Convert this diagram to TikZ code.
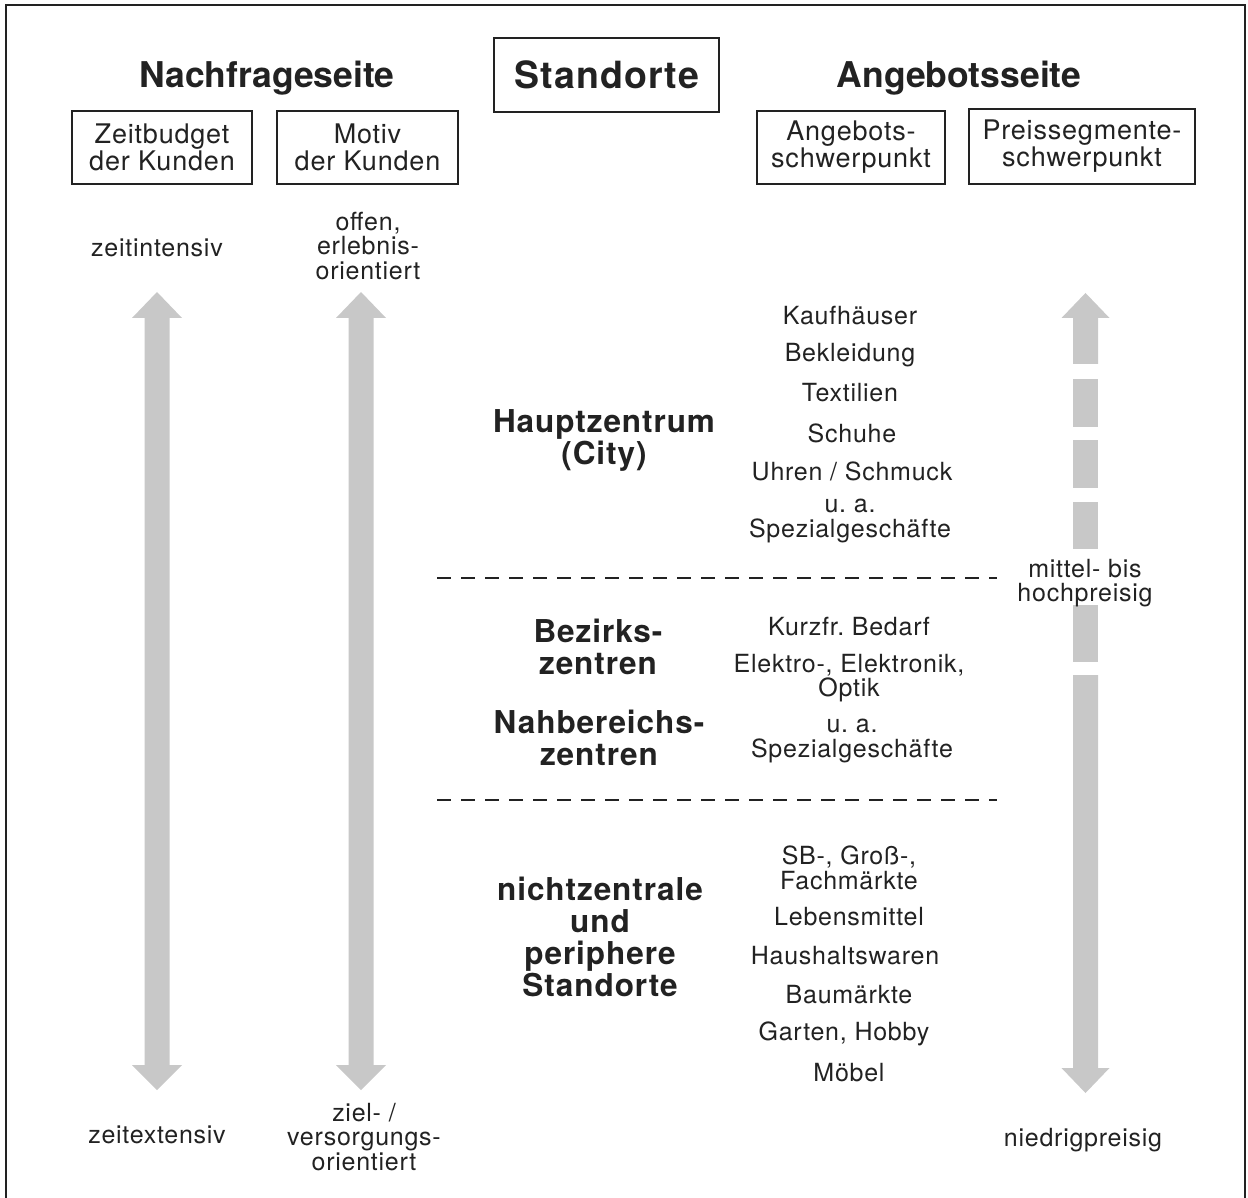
\documentclass[tikz,border=0pt]{standalone}
\usepackage{fontspec}
\setmainfont{TeX Gyre Heros}
\newfontfamily\lsp{TeX Gyre Heros}[LetterSpace=3]
\definecolor{ink}{HTML}{222222}
\definecolor{arrgray}{HTML}{C8C8C8}
\frenchspacing
\begin{document}
\begin{tikzpicture}[x=1pt,y=-1pt,
  every node/.style={text=ink},
  head/.style={font=\fontsize{35.5}{40}\selectfont\bfseries, inner sep=0},
  hbox/.style={draw=ink, line width=1.4pt, align=center, inner sep=0, font=\lsp\fontsize{27}{27}\selectfont},
  txt/.style={align=center, inner sep=0, font=\lsp\fontsize{25}{24.5}\selectfont},
  lbl/.style={align=center, inner sep=0, font=\lsp\fontsize{31.5}{32}\selectfont\bfseries},
  arr/.style={fill=arrgray, draw=none},
  sep/.style={line width=1.8pt, dash pattern=on 14pt off 10pt, draw=ink}]
\useasboundingbox (0,0) rectangle (1248,1198);
\fill[white] (0,0) rectangle (1248,1198);
% frame
\draw[ink, line width=2pt] (6,1198) -- (6,5) -- (1245,5) -- (1245,1198);

% headings
\node[head] (nach) at (267,78) {Nachfrageseite};
\node[head] (ang) at (959,78) {Angebotsseite};
\node[draw=ink, line width=2.4pt, minimum width=225, minimum height=74, inner sep=0,
      font=\lsp\fontsize{37.5}{40}\selectfont\bfseries] (stand) at (606.5,75) {Standorte};

% header boxes
\node[hbox, minimum width=180, minimum height=73] (zb) at (162,147.5) {Zeitbudget\\der Kunden};
\node[hbox, minimum width=181, minimum height=73] (mo) at (367.5,147.5) {Motiv\\der Kunden};
\node[hbox, minimum width=188, minimum height=73] (as) at (851,147.5) {Angebots-\\schwerpunkt};
\node[hbox, minimum width=226, minimum height=75] (ps) at (1082,146.5) {Preissegmente-\\schwerpunkt};

% left arrows
\foreach \cx in {157,361}{
  \fill[arr] (\cx,292) -- (\cx+25,318) -- (\cx+12.5,318) -- (\cx+12.5,1065) -- (\cx+25,1065)
    -- (\cx,1090) -- (\cx-25,1065) -- (\cx-12.5,1065) -- (\cx-12.5,318) -- (\cx-25,318) -- cycle;
}
% right dashed arrow
\fill[arr] (1085.5,293) -- (1109.5,318) -- (1098,318) -- (1098,364) -- (1073,364) -- (1073,318) -- (1061.5,318) -- cycle;
\fill[arr] (1073,379) rectangle (1098,427);
\fill[arr] (1073,440) rectangle (1098,488);
\fill[arr] (1073,502) rectangle (1098,549);
\fill[arr] (1073,605) rectangle (1098,662);
\fill[arr] (1073,675) -- (1098,675) -- (1098,1068) -- (1109.5,1068) -- (1085.5,1093) -- (1061.5,1068) -- (1073,1068) -- cycle;

% left column texts
\node[txt] (zi) at (157,248) {zeitintensiv};
\node[txt] (ze) at (157,1135) {zeitextensiv};
\node[txt] (of) at (368,246) {offen,\\erlebnis-\\orientiert};
\node[txt] (zv) at (364,1137) {ziel- /\\versorgungs-\\orientiert};
\node[txt] (mh) at (1085,583) {mittel- bis\\hochpreisig};
\node[txt] (np) at (1083,1140) {niedrigpreisig};

% separators
\coordinate (s1a) at (437,578); \coordinate (s1b) at (997,578);
\coordinate (s2a) at (437,800); \coordinate (s2b) at (997,800);
\draw[sep] (s1a) -- (s1b);
\draw[sep] (s2a) -- (s2b);

% centre labels
\node[lbl] (hz) at (604,440) {Hauptzentrum\\(City)};
\node[lbl] (bz) at (598,647) {Bezirks-\\zentren};
\node[lbl] (nb) at (599,738) {Nahbereichs-\\zentren};
\node[lbl] (nz) at (600,937) {nichtzentrale\\und\\periphere\\Standorte};

% offer items
\node[txt] (i1) at (850,316) {Kaufhäuser};
\node[txt] (i2) at (850,355) {Bekleidung};
\node[txt] (i3) at (850,393) {Textilien};
\node[txt] (i4) at (852,433) {Schuhe};
\node[txt] (i5) at (852,471) {Uhren / Schmuck};
\node[txt] (i6) at (850,521) {u. a.\\Spezialgeschäfte};
\node[txt] (j1) at (849,627) {Kurzfr. Bedarf};
\node[txt] (j2) at (849,678) {Elektro-, Elektronik,\\Optik};
\node[txt] (j3) at (852,741) {u. a.\\Spezialgeschäfte};
\node[txt] (k1) at (849,868) {SB-, Groß-,\\Fachmärkte};
\node[txt] (k2) at (849,917) {Lebensmittel};
\node[txt] (k3) at (845,956) {Haushaltswaren};
\node[txt] (k4) at (849,995) {Baumärkte};
\node[txt] (k5) at (844,1034) {Garten, Hobby};
\node[txt] (k6) at (849,1073) {Möbel};
\end{tikzpicture}
\end{document}
